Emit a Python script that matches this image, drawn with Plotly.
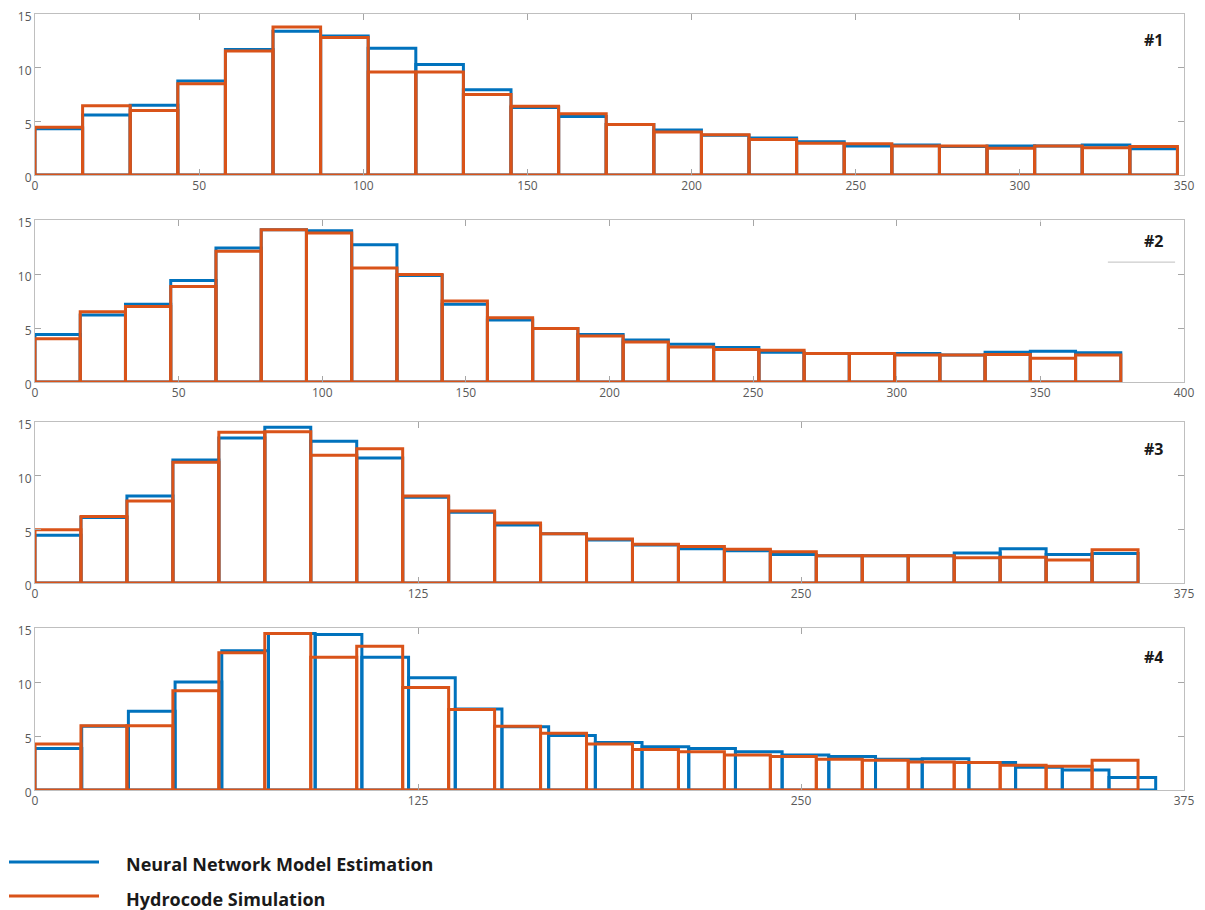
import plotly.graph_objects as go

# ---------------- data ----------------
bin_width_1 = 14.5
nn_1 = [4.3, 5.6, 6.5, 8.75, 11.7, 13.4, 12.95, 11.8, 10.3, 7.95, 6.3, 5.45,
        4.7, 4.2, 3.7, 3.45, 3.1, 2.7, 2.8, 2.65, 2.7, 2.7, 2.8, 2.45]
hc_1 = [4.45, 6.45, 6.0, 8.5, 11.55, 13.8, 12.8, 9.6, 9.6, 7.5, 6.4, 5.7,
        4.7, 4.0, 3.75, 3.3, 2.95, 2.9, 2.7, 2.7, 2.5, 2.7, 2.55, 2.65]

bin_width_2 = 15.75
nn_2 = [4.4, 6.2, 7.2, 9.4, 12.4, 14.1, 14.0, 12.7, 9.85, 7.2, 5.75, 4.95,
        4.4, 3.9, 3.5, 3.2, 2.75, 2.65, 2.65, 2.65, 2.5, 2.75, 2.85, 2.7]
hc_2 = [4.0, 6.5, 7.0, 8.85, 12.1, 14.1, 13.8, 10.55, 9.95, 7.5, 5.95, 4.95,
        4.25, 3.7, 3.25, 3.0, 2.95, 2.65, 2.65, 2.5, 2.5, 2.55, 2.2, 2.5]

bin_width_3 = 15.0
nn_3 = [4.45, 6.1, 8.1, 11.45, 13.5, 14.5, 13.2, 11.65, 8.0, 6.6, 5.4, 4.6,
        4.0, 3.55, 3.2, 3.0, 2.65, 2.55, 2.55, 2.55, 2.8, 3.2, 2.65, 2.75]
hc_3 = [4.95, 6.2, 7.65, 11.25, 14.05, 14.1, 11.9, 12.5, 8.1, 6.7, 5.6, 4.6,
        4.1, 3.6, 3.4, 3.15, 2.9, 2.55, 2.55, 2.55, 2.35, 2.4, 2.15, 3.1]

bin_width_4_nn = 15.24
bin_width_4_hc = 15.0
nn_4 = [3.85, 5.9, 7.3, 10.0, 12.9, 14.5, 14.4, 12.3, 10.4, 7.5, 5.85, 5.05,
        4.4, 4.0, 3.85, 3.55, 3.25, 3.1, 2.85, 2.9, 2.55, 2.1, 1.85, 1.15]
hc_4 = [4.25, 5.95, 5.95, 9.2, 12.7, 14.5, 12.3, 13.3, 9.5, 7.45, 5.9, 5.25,
        4.25, 3.75, 3.55, 3.25, 3.1, 2.85, 2.75, 2.6, 2.55, 2.3, 2.2, 2.75]

x_ranges = [[0, 350], [0, 400], [0, 375], [0, 375]]
x_ticks = [[0, 50, 100, 150, 200, 250, 300, 350],
           [0, 50, 100, 150, 200, 250, 300, 350, 400],
           [0, 125, 250, 375],
           [0, 125, 250, 375]]
y_ticks = [0, 5, 10, 15]
panel_labels = ["#1", "#2", "#3", "#4"]
series_names = ["Neural Network Model Estimation", "Hydrocode Simulation"]

# ---------------- style ----------------
OFF = 8                     # default page margin around the plot div
W, H = 1205 - OFF, 910 - OFF
BLUE = "#0072BD"
ORANGE = "#D95319"
AXIS_GRAY = "#BFBFBF"
TICK_FONT = dict(family="Open Sans, Noto Sans, sans-serif", size=12, color="#595959")
LBL_FONT = dict(family="Open Sans, Noto Sans, sans-serif", size=16, color="#1a1a1a")
YMAX = 15.0

def px_x(x):
    return (x - OFF) / W

def px_y(y):
    return 1 - (y - OFF) / H

panel_px = [(14, 175), (220, 382), (422, 583), (628, 790)]
left_px, right_px = 35, 1184

panels = [
    (nn_1, bin_width_1, hc_1, bin_width_1),
    (nn_2, bin_width_2, hc_2, bin_width_2),
    (nn_3, bin_width_3, hc_3, bin_width_3),
    (nn_4, bin_width_4_nn, hc_4, bin_width_4_hc),
]

fig = go.Figure()
layout = dict(
    width=W, height=H,
    margin=dict(l=0, r=0, t=0, b=0, autoexpand=False),
    paper_bgcolor="white", plot_bgcolor="white",
    barmode="overlay", showlegend=False,
)

for i, (nn, wn, hc, wh) in enumerate(panels):
    k = "" if i == 0 else str(i + 1)
    xa, ya = "x" + k, "y" + k
    for vals, w, col in ((nn, wn, BLUE), (hc, wh, ORANGE)):
        centers = [w * (j + 0.5) for j in range(len(vals))]
        fig.add_trace(go.Bar(
            x=centers, y=vals, width=[w] * len(vals),
            marker=dict(color="rgba(0,0,0,0)", line=dict(color=col, width=3)),
            xaxis=xa, yaxis=ya, hoverinfo="skip", cliponaxis=False,
        ))
    top, bot = panel_px[i]
    layout["xaxis" + k] = dict(
        domain=[px_x(left_px), px_x(right_px)], anchor=ya, automargin=False,
        range=x_ranges[i], tickvals=x_ticks[i],
        ticks="inside", ticklen=6, tickcolor="#A6A6A6", tickwidth=1,
        showline=True, linecolor=AXIS_GRAY, linewidth=1, mirror="ticks",
        showgrid=False, zeroline=False, tickfont=TICK_FONT,
        ticklabeloverflow="allow",
    )
    layout["yaxis" + k] = dict(
        domain=[px_y(bot), px_y(top)], anchor=xa, automargin=False,
        range=[0, YMAX], tickvals=y_ticks,
        ticks="inside", ticklen=6, tickcolor="#A6A6A6", tickwidth=1,
        showline=True, linecolor=AXIS_GRAY, linewidth=1, mirror="ticks",
        showgrid=False, zeroline=False, tickfont=TICK_FONT,
        ticklabeloverflow="allow", ticklabelshift=3,
    )

fig.update_layout(**layout)

# panel labels
ann_y = [40, 241, 449, 657]
for i, lab in enumerate(panel_labels):
    fig.add_annotation(x=px_x(1153), y=px_y(ann_y[i]), xref="paper", yref="paper",
                       text="<b>%s</b>" % lab, showarrow=False, font=LBL_FONT,
                       xanchor="center", yanchor="middle")

# panel #2 border artifacts from the original figure
fig.add_shape(type="line", xref="x2", yref="y2", x0=350.0, x1=398.0, y0=YMAX, y1=YMAX,
              line=dict(color="white", width=4), layer="above")
fig.add_shape(type="line", xref="x2", yref="y2", x0=373.5, x1=396.9, y0=11.1, y1=11.1,
              line=dict(color=AXIS_GRAY, width=1), layer="above")

# legend
leg = [(862, 864, BLUE, series_names[0]), (896, 899, ORANGE, series_names[1])]
for ly, ty, col, name in leg:
    fig.add_shape(type="line", xref="paper", yref="paper",
                  x0=px_x(9), x1=px_x(99), y0=px_y(ly), y1=px_y(ly),
                  line=dict(color=col, width=3))
    fig.add_annotation(x=px_x(124), y=px_y(ty), xref="paper", yref="paper",
                       text="<b>%s</b>" % name, showarrow=False,
                       font=dict(family="Open Sans, Noto Sans, sans-serif", size=18, color="#1a1a1a"),
                       xanchor="left", yanchor="middle")

fig.write_html("out.html")
